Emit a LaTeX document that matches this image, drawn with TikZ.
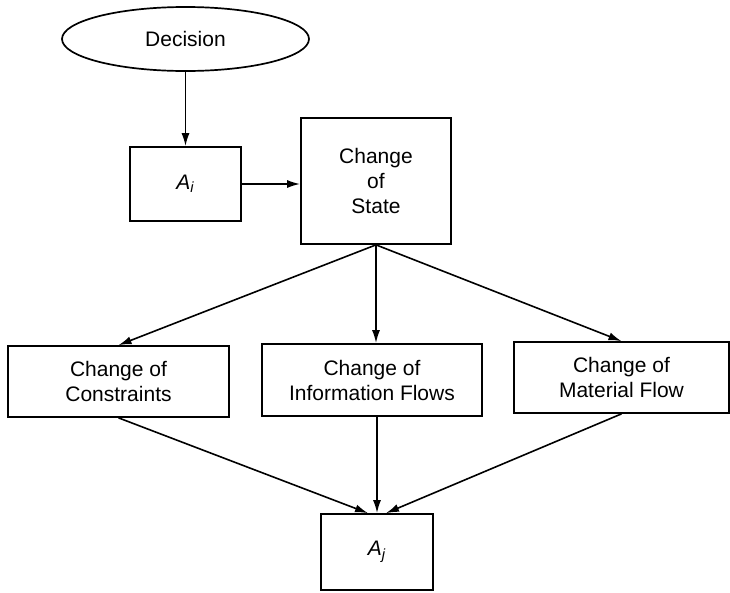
\documentclass[tikz,border=0pt]{standalone}
\usepackage{fontspec}
\setmainfont{Liberation Sans}
\usetikzlibrary{shapes.geometric,arrows.meta}
\begin{document}
\begin{tikzpicture}[x=1pt,y=-1pt,
  font=\fontsize{21}{25}\selectfont,
  every node/.style={draw,line width=1.7pt,align=center,inner sep=0pt},
  box/.style={rectangle},
  oval/.style={ellipse},
  link/.style={line width=1.6pt,-{Latex[length=13pt,width=8pt]}}]
  \useasboundingbox (0,0) rectangle (730,592);

  % nodes
  \node[oval] (dec) at (185.5,39) [minimum width=247pt,minimum height=64pt] {Decision};
  \node[box] (ai) at (185.5,184) [minimum width=111pt,minimum height=74pt] {\textit{A}\textsubscript{\textit{i}}};
  \node[box] (st) at (376,181) [minimum width=150pt,minimum height=126pt] {Change\\of\\State};
  \node[box] (c1) at (118.5,381.5) [minimum width=221pt,minimum height=71pt] {Change of\\Constraints};
  \node[box] (c2) at (372,380) [minimum width=220pt,minimum height=72pt] {Change of\\Information Flows};
  \node[box] (c3) at (621.5,377.5) [minimum width=215pt,minimum height=71pt] {Change of\\Material Flow};
  \node[box] (aj) at (377,552) [minimum width=112pt,minimum height=76pt] {\textit{A}\textsubscript{\textit{j}}};

  % connectors
  \draw[link] (dec.south) -- (ai.north);
  \draw[link] (ai.east) -- (ai.east -| st.west);
  \draw[link] (st.south) -- (c1.north);
  \draw[link] (st.south) -- (st.south |- c2.north);
  \draw[link] (st.south) -- (c3.north);
  \draw[link] (c1.south) -- ([xshift=-9pt]aj.north);
  \draw[link] (aj.north |- c2.south) -- (aj.north);
  \draw[link] (c3.south) -- ([xshift=9pt]aj.north);
\end{tikzpicture}
\end{document}
